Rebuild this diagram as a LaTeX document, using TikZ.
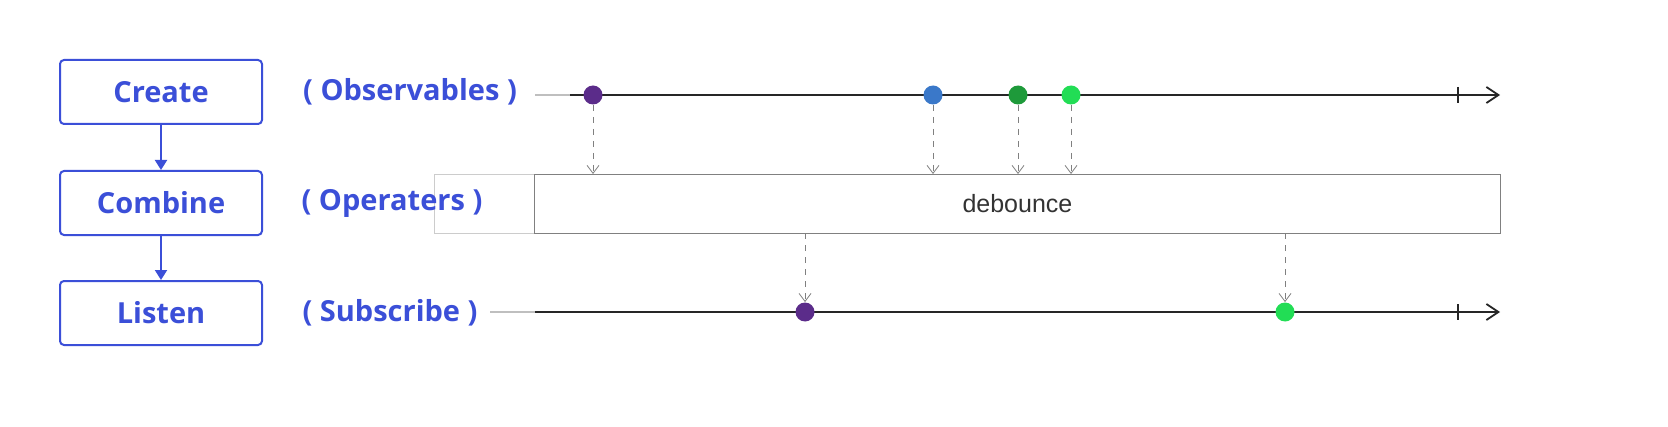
\documentclass[tikz,border=0pt]{standalone}
\usepackage{fontspec}
\setmainfont{Open Sans}
\newfontfamily\arialfont{Liberation Sans}
\usetikzlibrary{arrows.meta}
\definecolor{stageblue}{HTML}{3B4FD8}
\definecolor{dotpurple}{HTML}{5B2C8A}
\definecolor{dotblue}{HTML}{3A78C9}
\definecolor{dotdark}{HTML}{1E9A3A}
\definecolor{dotlight}{HTML}{22DD55}
\begin{document}
\begin{tikzpicture}[x=0.5pt, y=-0.5pt,
		stage_style/.style={draw=stageblue,line width=1pt,rounded corners=2pt,minimum width=101pt,minimum height=32pt,text=stageblue,font=\bfseries\fontsize{14.5}{16}\selectfont},
		label_style/.style={text=stageblue,font=\bfseries\fontsize{14.5}{16}\selectfont},
		flow_style/.style={draw=stageblue,line width=1pt,-{Triangle[length=5pt,width=6pt]}},
		dot_style/.style={circle,inner sep=0pt,minimum size=9.5pt},
		drop_style/.style={draw=gray,dashed,-{Straight Barb[length=4pt,width=6pt]}},
		line_style/.style={draw=black!85,line width=0.9pt}]
		\fill[white] (0,0) rectangle (1668,427);
		\useasboundingbox (0,0) rectangle (1668,427);
		% stages
		\node[stage_style] (create) at (161,92)  {Create};
		\node[stage_style] (combine) at (161,203) {Combine};
		\node[stage_style] (listen) at (161,313) {Listen};
		\draw[flow_style] (create) -- (combine);
		\draw[flow_style] (combine) -- (listen);
		% operator box
		\draw[black!20] (434,174) rectangle (534,233);
		\node[draw=gray,minimum width=483pt,minimum height=29.5pt,anchor=north west,font=\arialfont\fontsize{12.5}{14}\selectfont,text=black!80] (op) at (534,174) {debounce};
		% timelines
		\draw[black!25,line width=1.2pt] (535,95) -- (570,95);
		\draw[line_style,-{Straight Barb[length=6pt,width=8pt]}] (570,95) -- (1500,95);
		\draw[line_style] (1458,87) -- (1458,103);
		\draw[black!25,line width=1.2pt] (490,312) -- (535,312);
		\draw[line_style,-{Straight Barb[length=6pt,width=8pt]}] (535,312) -- (1500,312);
		\draw[line_style] (1458,304) -- (1458,320);
		% labels
		\node[label_style] (obs) at (410,92) {( Observables )};
		\node[label_style] (opr) at (392,203) {( Operaters )};
		\node[label_style] (sub) at (390,313) {( Subscribe )};
		% input events
		\node[dot_style,fill=dotpurple] (a1) at (593,95) {};
		\node[dot_style,fill=dotblue] (a2) at (933,95) {};
		\node[dot_style,fill=dotdark] (a3) at (1018,95) {};
		\node[dot_style,fill=dotlight] (a4) at (1071,95) {};
		\foreach \n/\x in {a1/593,a2/933,a3/1018,a4/1071}
			\draw[drop_style] (\n) -- (\x,174);
		% output events
		\node[dot_style,fill=dotpurple] (b1) at (805,312) {};
		\node[dot_style,fill=dotlight] (b2) at (1285,312) {};
		\draw[drop_style] (805,233) -- (b1);
		\draw[drop_style] (1285,233) -- (b2);
\end{tikzpicture}
\end{document}
